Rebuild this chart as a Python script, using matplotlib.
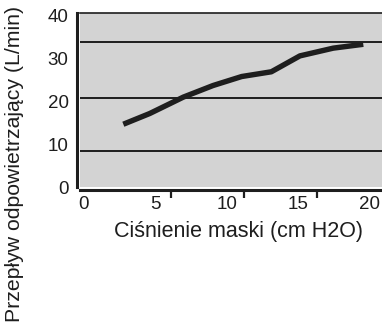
import matplotlib
matplotlib.use("Agg")
import matplotlib.pyplot as plt

plt.rcParams['font.family'] = ['Liberation Sans', 'DejaVu Sans']

# mask pressure (cm H2O) vs exhaust flow (L/min)
pressure = [2.75, 4.6, 6.94, 9.02, 11.03, 13.1, 15.1, 17.43, 19.53]
flow = [14.6, 17.1, 20.9, 23.6, 25.7, 26.8, 30.5, 32.3, 33.2]

x_ticks = [0, 5, 10, 15, 20]
y_ticks = [0, 10, 20, 30, 40]
x_marks = [6.1, 11.2, 16.3]    # the little tick marks sit off the labels
grid_levels = [8.4, 20.7, 33.7]  # same for the horizontal rules

ink = '#1e1e1e'

fig = plt.figure(figsize=(3.82, 3.27), dpi=100)
ax = fig.add_axes([0.2094, 0.4281, 0.7906, 0.5321])
ax.set_facecolor('#d3d3d3')

ax.plot(pressure, flow, color=ink, lw=3.9, solid_capstyle='butt', zorder=3)

ax.set_xlim(-0.28, 20.84)
ax.set_ylim(0, 40.47)

ax.set_xticks(x_ticks)
ax.set_yticks(y_ticks)
ax.set_xticks(x_marks, minor=True)
ax.set_yticks(grid_levels, minor=True)
ax.tick_params(axis='both', which='major', length=0, labelsize=13.5, colors=ink)
ax.tick_params(axis='y', which='major', pad=6)
ax.tick_params(axis='x', which='major', pad=4)
ax.tick_params(axis='x', which='minor', length=6, width=1.6, direction='out', color=ink)
ax.tick_params(axis='y', which='minor', length=0)
ax.grid(True, axis='y', which='minor', color=ink, lw=1.4)
ax.set_axisbelow(True)

ax.spines['right'].set_visible(False)
ax.spines['top'].set_color(ink)
ax.spines['top'].set_linewidth(1.2)
for side in ['left', 'bottom']:
    ax.spines[side].set_position(('outward', 2.2))
    ax.spines[side].set_color(ink)
    ax.spines[side].set_linewidth(2.2)

ax.set_xlabel('Ciśnienie maski (cm H2O)', fontsize=15.5, color=ink)
ax.xaxis.set_label_coords(0.526, -0.195)
fig.text(0.039, 0.5, 'Przepływ odpowietrzający (L/min)', rotation=90,
         ha='center', va='center', fontsize=15.3, color=ink)

fig.savefig('out.png', dpi=100)
